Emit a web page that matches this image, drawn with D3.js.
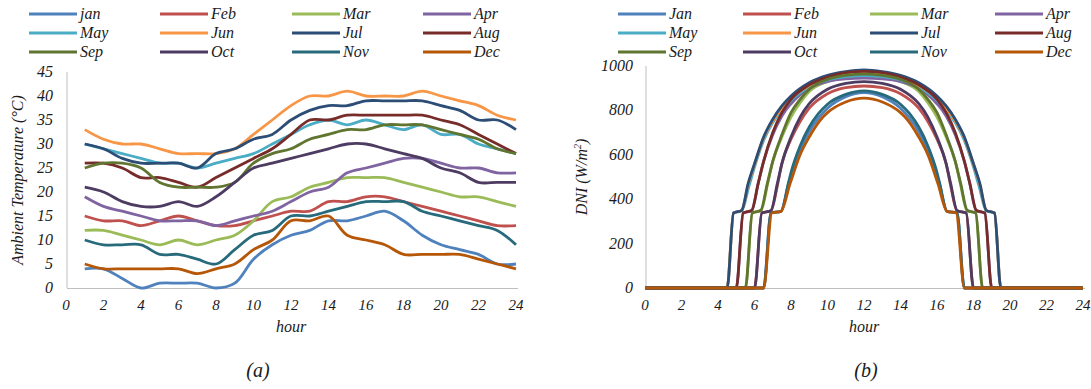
<!DOCTYPE html>
<html>
<head>
<meta charset="utf-8">
<script src="https://cdn.jsdelivr.net/npm/d3@7"></script>
<style>
  body { margin: 0; background: #fff; }
  svg { display: block; }
  svg text { font-family: "Times New Roman", "Liberation Serif", Tinos, serif; font-style: italic; }
</style>
</head>
<body>
<svg id="chart" width="1091" height="389"></svg>
<script>
// month names used in the two legends
const monthsA = ["jan", "Feb", "Mar", "Apr", "May", "Jun", "Jul", "Aug", "Sep", "Oct", "Nov", "Dec"];
const monthsB = ["Jan", "Feb", "Mar", "Apr", "May", "Jun", "Jul", "Aug", "Sep", "Oct", "Nov", "Dec"];
const colors = ["#4F81BD", "#C0504D", "#9BBB59", "#8064A2", "#4BACC6", "#F79646",
                "#2C4D75", "#772C2A", "#5F7530", "#4D3B62", "#276A7C", "#B65708"];

// (a) ambient temperature, hours 1..24
const hoursA = [1,2,3,4,5,6,7,8,9,10,11,12,13,14,15,16,17,18,19,20,21,22,23,24];
const tJan = [4,4,2,0,1,1,1,0,1,6,9,11,12,14,14,15,16,14,11,9,8,7,5,5];
const tFeb = [15,14,14,13,14,15,14,13,13,14,15,16,16,18,18,19,19,18,17,16,15,14,13,13];
const tMar = [12,12,11,10,9,10,9,10,11,14,18,19,21,22,23,23,23,22,21,20,19,19,18,17];
const tApr = [19,17,16,15,14,14,14,13,14,15,16,18,20,21,24,25,26,27,27,26,25,25,24,24];
const tMay = [30,29,28,27,26,26,25,26,27,28,30,32,34,35,34,35,34,33,34,32,32,30,29,28];
const tJun = [33,31,30,30,29,28,28,28,29,32,35,38,40,40,41,40,40,40,41,40,39,38,36,35];
const tJul = [30,29,27,26,26,26,25,28,29,31,32,35,37,38,38,39,39,39,39,38,37,35,35,33];
const tAug = [26,26,25,23,23,22,21,23,25,27,29,32,35,35,36,36,36,36,36,35,34,32,30,28];
const tSep = [25,26,26,25,22,21,21,21,22,26,28,29,31,32,33,33,34,34,34,33,32,31,29,28];
const tOct = [21,20,18,17,17,18,17,19,22,25,26,27,28,29,30,30,29,28,27,25,24,22,22,22];
const tNov = [10,9,9,9,7,7,6,5,8,11,12,15,15,16,17,18,18,18,16,15,14,13,12,9];
const tDec = [5,4,4,4,4,4,3,4,5,8,10,14,14,15,11,10,9,7,7,7,7,6,5,4];
const tempSeries = [tJan,tFeb,tMar,tApr,tMay,tJun,tJul,tAug,tSep,tOct,tNov,tDec];

// (b) DNI, [hour, W/m2]
const dJan = [[0,0],[6.5,0],[6.9,338],[7.45,345],[7.9,480],[8.5,620],[9,705],[9.5,765],[10,810],[11,862],[12,880],[13,862],[14,810],[14.5,765],[15,705],[15.5,620],[16.1,480],[16.55,345],[17.1,338],[17.5,0],[24,0]];
const dFeb = [[0,0],[6,0],[6.4,338],[6.9,348],[7.3,480],[7.5,560],[8,670],[8.5,750],[9,810],[10,875],[11,903],[12,910],[13,903],[14,875],[15,810],[15.5,750],[16,670],[16.5,560],[16.7,480],[17.1,348],[17.6,338],[18,0],[24,0]];
const dMar = [[0,0],[5.5,0],[5.88,338],[6.35,348],[6.75,480],[7,570],[7.5,680],[8,770],[8.5,835],[9,885],[10,930],[11,948],[12,952],[13,948],[14,930],[15,885],[15.5,835],[16,770],[16.5,680],[17,570],[17.25,480],[17.65,348],[18.12,338],[18.5,0],[24,0]];
const dApr = [[0,0],[5,0],[5.38,338],[5.85,348],[6.2,470],[6.5,570],[7,690],[7.5,775],[8,830],[9,900],[10,930],[11,942],[12,945],[13,942],[14,930],[15,900],[16,830],[16.5,775],[17,690],[17.5,570],[17.8,470],[18.15,348],[18.62,338],[19,0],[24,0]];
const dMay = [[0,0],[4.5,0],[4.85,338],[5.3,348],[5.7,460],[6,545],[6.5,665],[7,745],[7.5,800],[8,845],[9,905],[10,937],[11,952],[12,957],[13,952],[14,937],[15,905],[16,845],[16.5,800],[17,745],[17.5,665],[18,545],[18.3,460],[18.7,348],[19.15,338],[19.5,0],[24,0]];
const dJun = [[0,0],[4.5,0],[4.85,338],[5.3,350],[5.65,465],[6,555],[6.5,675],[7,752],[7.5,810],[8,855],[9,912],[10,946],[11,964],[12,970],[13,964],[14,946],[15,912],[16,855],[16.5,810],[17,752],[17.5,675],[18,555],[18.35,465],[18.7,350],[19.15,338],[19.5,0],[24,0]];
const dJul = [[0,0],[4.5,0],[4.85,338],[5.3,350],[5.65,470],[6,560],[6.5,680],[7,760],[7.5,820],[8,865],[9,925],[10,958],[11,975],[12,982],[13,975],[14,958],[15,925],[16,865],[16.5,820],[17,760],[17.5,680],[18,560],[18.35,470],[18.7,350],[19.15,338],[19.5,0],[24,0]];
const dAug = [[0,0],[5,0],[5.38,338],[5.85,350],[6.2,470],[6.5,570],[7,700],[7.5,790],[8,850],[9,915],[10,950],[11,970],[12,976],[13,970],[14,950],[15,915],[16,850],[16.5,790],[17,700],[17.5,570],[17.8,470],[18.15,350],[18.62,338],[19,0],[24,0]];
const dSep = [[0,0],[5.5,0],[5.88,338],[6.35,350],[6.7,470],[7,570],[7.5,690],[8,790],[8.5,850],[9,895],[10,940],[11,958],[12,963],[13,958],[14,940],[15,895],[15.5,850],[16,790],[16.5,690],[17,570],[17.3,470],[17.65,350],[18.12,338],[18.5,0],[24,0]];
const dOct = [[0,0],[6,0],[6.4,338],[6.9,348],[7.25,470],[7.5,560],[8,680],[8.5,770],[9,830],[10,895],[11,922],[12,930],[13,922],[14,895],[15,830],[15.5,770],[16,680],[16.5,560],[16.75,470],[17.1,348],[17.6,338],[18,0],[24,0]];
const dNov = [[0,0],[6.5,0],[6.9,338],[7.45,345],[7.85,470],[8,520],[8.5,640],[9,725],[9.5,785],[10,828],[11,872],[12,888],[13,872],[14,828],[14.5,785],[15,725],[15.5,640],[16,520],[16.15,470],[16.55,345],[17.1,338],[17.5,0],[24,0]];
const dDec = [[0,0],[6.5,0],[6.95,338],[7.45,345],[7.95,470],[8.5,600],[9,680],[9.75,770],[10,790],[11,838],[12,855],[13,838],[14,790],[14.25,770],[15,680],[15.5,600],[16.05,470],[16.55,345],[17.05,338],[17.5,0],[24,0]];
const dniSeries = [dJan,dFeb,dMar,dApr,dMay,dJun,dJul,dAug,dSep,dOct,dNov,dDec];

const xTicks = [0,2,4,6,8,10,12,14,16,18,20,22,24];
const yTicksA = [0,5,10,15,20,25,30,35,40,45];
const yTicksB = [0,200,400,600,800,1000];

const svg = d3.select("#chart");
const txt = "#1a1a1a", axisCol = "#BFBFBF";

function panel(opt) {
  const x = d3.scaleLinear().domain([0, 24]).range([opt.x0, opt.x1]);
  const y = d3.scaleLinear().domain(opt.yDomain).range([288, opt.yTop]);
  const g = svg.append("g");

  // axis lines
  g.append("line").attr("x1", opt.x0 + 1).attr("x2", opt.x0 + 1).attr("y1", opt.yTop).attr("y2", 288)
    .attr("stroke", axisCol).attr("stroke-width", 1);
  g.append("line").attr("x1", opt.x0 + 1).attr("x2", opt.x1 + 2).attr("y1", 288.5).attr("y2", 288.5)
    .attr("stroke", axisCol).attr("stroke-width", 1);

  // tick labels
  g.selectAll(".xt").data(xTicks).enter().append("text")
    .attr("x", d => x(d)).attr("y", 310).attr("text-anchor", "middle")
    .attr("font-size", 15).attr("fill", txt).text(d => d);
  g.selectAll(".yt").data(opt.yTicks).enter().append("text")
    .attr("x", opt.yLabelX).attr("y", d => y(d) + 5).attr("text-anchor", "end")
    .attr("font-size", 16).attr("fill", txt).text(d => d);

  // titles
  g.append("text").attr("x", (opt.x0 + opt.x1) / 2).attr("y", 332).attr("text-anchor", "middle")
    .attr("font-size", 16).attr("fill", txt).text("hour");
  g.append("text").attr("transform", "translate(" + opt.yTitleX + "," + opt.yTitleY + ") rotate(-90)")
    .attr("text-anchor", "middle").attr("font-size", 16).attr("fill", txt).html(opt.yTitle);
  g.append("text").attr("x", opt.capX).attr("y", 377).attr("text-anchor", "middle")
    .attr("font-size", 20).attr("fill", txt).text(opt.caption);

  // lines
  const line = d3.line().x(d => x(d[0])).y(d => y(d[1])).curve(opt.curve);
  g.selectAll(".series").data(opt.series).enter().append("path")
    .attr("d", d => line(d)).attr("fill", "none")
    .attr("stroke", (d, i) => colors[i]).attr("stroke-width", 2.8)
    .attr("stroke-linejoin", "round");

  // legend 4 x 3
  const lg = g.selectAll(".lg").data(opt.names).enter().append("g")
    .attr("transform", (d, i) => "translate(" + opt.legX[i % 4] + "," + [14, 33, 52][Math.floor(i / 4)] + ")");
  lg.append("line").attr("x1", 0).attr("x2", 48).attr("y1", 0).attr("y2", 0)
    .attr("stroke", (d, i) => colors[i]).attr("stroke-width", 3);
  lg.append("text").attr("x", 51).attr("y", 5).attr("font-size", 16).attr("fill", txt).text(d => d);
}

panel({
  x0: 66, x1: 516, yTop: 72, yDomain: [0, 45], yTicks: yTicksA, yLabelX: 53,
  yTitle: "Ambient Temperature (°C)", yTitleX: 23, yTitleY: 180, capX: 258, caption: "(a)",
  series: tempSeries.map(s => s.map((v, i) => [hoursA[i], v])),
  curve: d3.curveCatmullRom.alpha(0.5), names: monthsA, legX: [29, 160, 292, 423]
});

panel({
  x0: 645, x1: 1083, yTop: 66, yDomain: [0, 1000], yTicks: yTicksB, yLabelX: 633,
  yTitle: "DNI (W/m<tspan font-size='10' dy='-6'>2</tspan><tspan dy='6'>)</tspan>", yTitleX: 587, yTitleY: 177,
  capX: 866, caption: "(b)",
  series: dniSeries, curve: d3.curveMonotoneX, names: monthsB, legX: [618, 743, 870, 995]
});
</script>
</body>
</html>
